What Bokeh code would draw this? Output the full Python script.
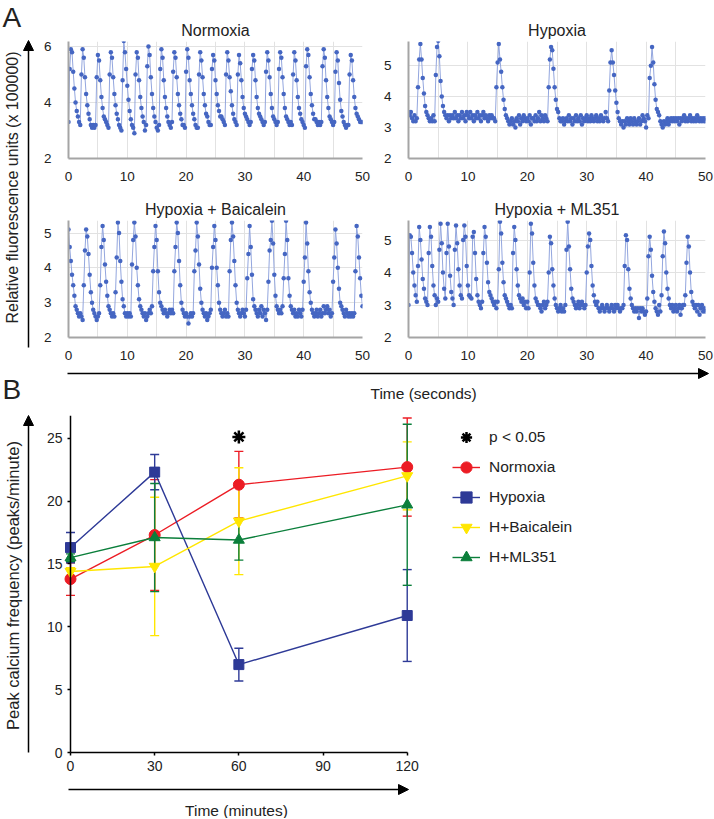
import numpy as np
from bokeh.plotting import figure
from bokeh.layouts import row, column
from bokeh.models import (Range1d, FixedTicker, Arrow, NormalHead, Whisker, TeeHead,
                          ColumnDataSource, Legend, LegendItem)
from bokeh.core.properties import value
from bokeh.embed import file_html
from bokeh.resources import INLINE

FONT = "Liberation Sans"

# ---------------- Panel A data: fluorescence (x 100000), one sample every 0.2 s ----------------
sample_step_s = 0.2

normoxia_trace = [
    3.3, 5.2, 5.9, 5.8, 5.1, 4.5, 4.0, 3.7, 3.5, 3.3,
    3.2, 5.0, 5.9, 5.6, 4.9, 4.3, 3.9, 3.6, 3.4, 3.2,
    3.1, 3.2, 3.1, 3.2, 4.9, 5.7, 5.5, 4.8, 4.2, 3.8,
    3.5, 3.4, 3.3, 3.2, 3.1, 5.0, 5.8, 5.6, 4.9, 4.3,
    3.9, 3.6, 3.4, 3.2, 3.1, 3.0, 4.8, 6.2, 5.8, 5.2,
    4.6, 4.1, 3.7, 3.4, 3.2, 3.1, 2.9, 5.0, 5.8, 5.6,
    4.8, 4.2, 3.8, 3.5, 3.3, 3.0, 3.2, 5.3, 6.0, 5.7,
    4.9, 4.3, 3.8, 3.5, 3.3, 3.1, 3.0, 3.2, 5.2, 5.9,
    5.6, 4.8, 4.2, 3.8, 3.5, 3.3, 3.2, 3.1, 3.3, 5.1,
    5.8, 5.6, 4.9, 4.3, 3.9, 3.6, 3.4, 3.2, 3.2, 3.1,
    5.1, 5.9, 5.6, 4.8, 4.3, 3.9, 3.6, 3.4, 3.2, 3.1,
    3.1, 5.0, 5.8, 5.5, 4.9, 4.3, 3.9, 3.6, 3.5, 3.3,
    3.2, 3.2, 5.2, 5.7, 5.5, 4.8, 4.3, 3.9, 3.7, 3.5,
    3.5, 3.4, 3.3, 3.2, 5.0, 5.8, 5.5, 4.9, 4.4, 3.9,
    3.6, 3.4, 3.3, 3.2, 5.0, 5.7, 5.4, 4.8, 4.2, 3.8,
    3.6, 3.5, 3.4, 3.3, 3.2, 3.3, 5.2, 5.7, 5.5, 4.8,
    4.2, 3.8, 3.6, 3.5, 3.4, 3.3, 3.2, 3.3, 5.1, 5.8,
    5.5, 4.9, 4.3, 3.8, 3.5, 3.4, 3.3, 3.2, 3.3, 5.2,
    5.8, 5.6, 4.9, 4.3, 3.8, 3.5, 3.4, 3.3, 3.2, 3.3,
    3.2, 5.0, 5.8, 5.5, 4.8, 4.2, 3.8, 3.6, 3.4, 3.3,
    3.2, 3.1, 5.3, 5.9, 5.7, 4.9, 4.3, 3.9, 3.6, 3.4,
    3.4, 3.3, 3.2, 3.3, 3.2, 3.3, 5.3, 5.9, 5.6, 4.8,
    4.2, 3.8, 3.5, 3.4, 3.3, 3.2, 3.3, 5.1, 5.8, 5.5,
    4.7, 4.1, 3.7, 3.5, 3.3, 3.2, 3.1, 3.2, 3.2, 5.0,
    5.7, 5.5, 4.8, 4.2, 3.8, 3.6, 3.5, 3.4, 3.3, 3.3,
    3.3]

hypoxia_trace = [
    3.5, 3.4, 3.5, 3.3, 3.2, 3.4, 3.2, 3.3, 4.3, 5.2,
    5.7, 5.2, 4.6, 4.1, 3.7, 3.5, 3.4, 3.3, 3.2, 3.3,
    3.2, 3.4, 3.2, 4.7, 5.6, 5.8, 5.3, 4.5, 4.0, 3.7,
    3.5, 3.4, 3.3, 3.4, 3.2, 3.4, 3.3, 3.4, 3.3, 3.5,
    3.3, 3.4, 3.2, 3.4, 3.3, 3.5, 3.3, 3.4, 3.2, 3.5,
    3.4, 3.3, 3.5, 3.3, 3.4, 3.2, 3.4, 3.3, 3.5, 3.3,
    3.4, 3.2, 3.4, 3.5, 3.3, 3.4, 3.3, 3.2, 3.4, 3.3,
    3.4, 3.3, 3.3, 3.2, 4.3, 5.1, 5.7, 5.2, 4.8, 4.3,
    3.9, 3.6, 3.4, 3.3, 3.2, 3.1, 3.2, 3.3, 3.1, 3.2,
    3.0, 3.3, 3.2, 3.4, 3.1, 3.3, 3.2, 3.4, 3.3, 3.2,
    3.3, 3.2, 3.4, 3.1, 3.3, 3.3, 3.2, 3.4, 3.2, 3.3,
    3.5, 3.2, 3.4, 3.3, 3.2, 3.4, 3.3, 3.2, 4.3, 5.2,
    5.6, 5.5, 4.9, 4.3, 3.9, 3.6, 3.5, 3.3, 3.2, 3.2,
    3.3, 3.1, 3.2, 3.3, 3.2, 3.4, 3.2, 3.3, 3.1, 3.3,
    3.2, 3.4, 3.2, 3.3, 3.2, 3.4, 3.1, 3.3, 3.2, 3.3,
    3.4, 3.2, 3.3, 3.2, 3.4, 3.3, 3.2, 3.3, 3.4, 3.2,
    3.3, 3.2, 3.4, 3.3, 3.2, 3.3, 3.5, 3.3, 3.2, 4.2,
    5.1, 5.5, 5.1, 4.7, 4.2, 3.8, 3.5, 3.3, 3.2, 3.1,
    3.2, 3.0, 3.2, 3.1, 3.3, 3.2, 3.1, 3.3, 3.2, 3.1,
    3.3, 3.2, 3.1, 3.2, 3.3, 3.1, 3.2, 3.4, 3.3, 3.2,
    3.0, 3.4, 3.3, 4.6, 5.0, 5.6, 5.1, 4.4, 3.9, 3.6,
    3.5, 3.4, 3.2, 3.1, 3.0, 3.2, 3.1, 3.2, 3.3, 3.1,
    3.2, 3.3, 3.2, 3.3, 3.2, 3.3, 3.2, 3.3, 3.1, 3.3,
    3.2, 3.3, 3.4, 3.2, 3.3, 3.2, 3.3, 3.4, 3.2, 3.3,
    3.2, 3.3, 3.2, 3.4, 3.3, 3.2, 3.3, 3.2, 3.3, 3.2,
    3.3]

baicalein_trace = [
    5.1, 4.6, 4.2, 3.8, 3.5, 3.2, 2.9, 2.8, 2.7, 2.6,
    2.7, 2.6, 2.5, 3.5, 4.5, 5.1, 4.9, 4.4, 3.8, 3.3,
    3.0, 2.8, 2.7, 2.6, 2.5, 2.6, 2.7, 3.5, 4.6, 5.2,
    4.8, 4.1, 3.6, 3.2, 2.9, 2.8, 2.7, 2.6, 2.7, 2.6,
    3.3, 4.3, 5.3, 5.0, 4.2, 3.6, 3.1, 2.9, 2.7, 2.6,
    2.7, 2.6, 2.7, 2.6, 4.1, 4.8, 5.3, 4.9, 4.0, 3.5,
    3.1, 2.9, 2.8, 2.7, 2.6, 2.7, 2.5, 2.6, 2.7, 2.8,
    2.7, 2.9, 3.9, 4.6, 5.2, 4.8, 3.9, 3.3, 3.0, 2.9,
    2.8, 2.7, 2.8, 2.7, 2.6, 2.7, 2.8, 2.7, 2.8, 2.7,
    3.9, 4.6, 5.3, 5.0, 4.2, 3.5, 3.0, 2.8, 2.7, 2.6,
    2.7, 2.6, 2.4, 2.6, 2.7, 2.6, 2.7, 3.9, 4.5, 5.3,
    4.9, 4.1, 3.4, 3.0, 2.8, 2.7, 2.6, 2.7, 2.5, 2.6,
    2.7, 2.8, 4.0, 4.6, 5.2, 4.8, 4.0, 3.5, 3.0, 2.8,
    2.7, 2.6, 2.7, 2.8, 2.6, 2.7, 2.6, 3.9, 4.8, 5.3,
    4.9, 4.2, 3.5, 3.0, 2.8, 2.7, 2.6, 2.7, 2.8, 2.7,
    2.6, 2.8, 3.7, 4.4, 5.2, 4.6, 3.8, 3.1, 2.9, 2.8,
    2.7, 2.6, 2.8, 2.7, 2.9, 2.6, 2.8, 2.7, 2.5, 2.8,
    3.6, 4.5, 4.8, 5.35, 4.7, 3.8, 3.2, 2.9, 2.8, 2.7,
    2.8, 2.7, 2.9, 3.7, 4.4, 5.35, 4.8, 3.7, 3.2, 2.9,
    2.8, 2.7, 2.8, 2.6, 2.7, 2.6, 2.8, 2.7, 2.6, 2.8,
    3.6, 4.3, 5.3, 4.7, 3.9, 3.3, 3.0, 2.8, 2.7, 2.6,
    2.7, 2.8, 2.6, 2.7, 2.8, 2.6, 2.7, 2.9, 2.7, 2.8,
    2.9, 2.7, 2.8, 2.6, 2.7, 3.6, 4.3, 5.1, 4.7, 4.0,
    3.4, 3.0, 2.9, 2.8, 2.7, 2.6, 2.8, 2.7, 2.6, 2.7,
    2.6, 2.7, 2.6, 2.7, 3.9, 5.2, 4.9, 4.3, 3.7, 3.2,
    2.9]

ml351_trace = [
    3.0, 5.15, 5.1, 4.6, 4.0, 3.6, 3.3, 3.1, 4.2, 5.4,
    5.0, 4.4, 3.8, 3.5, 3.2, 3.1, 3.0, 4.6, 5.4, 5.1,
    4.2, 3.6, 3.3, 3.0, 3.2, 3.1, 4.7, 5.5, 4.9, 4.0,
    3.5, 3.2, 4.6, 5.5, 4.8, 3.9, 3.4, 3.2, 3.0, 4.7,
    5.45, 4.9, 4.1, 3.6, 3.3, 3.2, 5.0, 5.45, 5.1, 4.2,
    3.6, 3.3, 3.25, 3.2, 5.1, 5.25, 4.6, 3.8, 3.3, 3.1,
    3.0, 2.9, 3.1, 4.6, 5.4, 5.1, 4.3, 3.7, 3.4, 3.3,
    3.2, 3.1, 3.0, 3.1, 2.9, 3.1, 4.1, 5.56, 5.2, 4.3,
    3.7, 3.3, 3.2, 3.1, 3.0, 2.9, 3.0, 2.9, 4.6, 5.4,
    5.0, 4.1, 3.6, 3.3, 3.2, 3.1, 3.2, 3.0, 3.1, 2.9,
    3.1, 2.9, 4.0, 5.5, 5.2, 4.3, 3.6, 3.2, 3.1, 3.0,
    3.0, 2.9, 2.8, 3.0, 3.1, 2.9, 3.0, 3.1, 4.0, 5.1,
    4.9, 4.1, 3.6, 3.2, 3.0, 2.9, 2.8, 2.9, 3.0, 2.8,
    2.9, 2.8, 3.0, 4.7, 5.56, 4.8, 4.1, 3.5, 3.2, 3.1,
    3.0, 2.9, 3.0, 3.1, 2.9, 3.0, 3.1, 3.0, 2.9, 3.0,
    4.0, 4.8, 5.2, 5.0, 4.2, 3.6, 3.3, 3.1, 3.0, 3.1,
    2.9, 2.8, 2.9, 3.0, 2.9, 2.8, 2.9, 3.0, 2.9, 2.8,
    2.9, 3.0, 2.9, 2.8, 3.0, 2.9, 3.0, 2.9, 2.8, 2.9,
    2.9, 3.0, 4.2, 5.15, 5.0, 4.1, 3.5, 3.2, 3.0, 2.9,
    2.8, 2.9, 2.8, 2.9, 2.6, 2.9, 2.8, 2.9, 2.8, 2.7,
    2.8, 3.2, 4.5, 5.1, 4.7, 3.9, 3.4, 3.1, 2.9, 2.8,
    2.7, 3.0, 2.8, 3.3, 4.5, 5.26, 4.9, 4.0, 3.5, 3.2,
    3.0, 2.9, 3.0, 2.8, 2.9, 3.0, 2.8, 2.9, 3.0, 2.7,
    2.9, 3.0, 3.0, 3.3, 4.3, 5.1, 4.8, 4.0, 3.4, 3.1,
    3.0, 2.9, 3.0, 2.8, 3.0, 2.7, 2.9, 3.0, 2.8, 2.9,
    2.8]

trace_titles = ["Normoxia", "Hypoxia", "Hypoxia + Baicalein", "Hypoxia + ML351"]
trace_ymax = [6.18, 5.78, 5.36, 5.6]
trace_yticks = [[2, 4, 6], [2, 3, 4, 5], [2, 3, 4, 5], [2, 3, 4, 5]]
trace_xticks = [0, 10, 20, 30, 40, 50]
trace_xgrid = [0, 5, 10, 15, 20, 25, 30, 35, 40, 45, 50]

# ---------------- Panel B data: peak calcium frequency (peaks/minute) ----------------
time_min = [0, 30, 60, 120]
normoxia_mean = [13.8, 17.3, 21.3, 22.7]
normoxia_err = [1.3, 4.4, 2.65, 3.9]
hypoxia_mean = [16.3, 22.3, 7.0, 10.9]
hypoxia_err = [1.2, 1.4, 1.3, 3.65]
baicalein_mean = [14.4, 14.8, 18.4, 22.0]
baicalein_err = [0.3, 5.5, 4.25, 2.7]
ml351_mean = [15.5, 17.1, 16.9, 19.7]
ml351_err = [0.3, 4.3, 1.6, 6.4]
signif_time = [60]
signif_y = [25.1]
b_xticks = [0, 30, 60, 90, 120]
b_yticks = [0, 5, 10, 15, 20, 25]
b_ymax = 26.8

TRACE_DOT = "#4566c2"
TRACE_LINE = "#93a6de"


def trace_fig(vals, title, ymax, yticks, width, height, mbl, mbr, mbt, mbb):
    t = np.arange(len(vals)) * sample_step_s
    p = figure(width=width, height=height, x_range=Range1d(0, 50), y_range=Range1d(2, ymax),
               output_backend="svg", toolbar_location=None, title=title,
               min_border_left=mbl, min_border_right=mbr, min_border_top=mbt, min_border_bottom=mbb)
    p.outline_line_color = None
    p.title.align = "center"
    p.title.text_font = FONT
    p.title.text_font_size = "16px"
    p.title.text_font_style = "normal"
    p.title.text_color = "#222222"
    p.title.standoff = 6
    p.line(t, vals, line_color=TRACE_LINE, line_width=1)
    p.scatter(t, vals, size=4.5, fill_color=TRACE_DOT, line_color=None)
    p.xaxis.ticker = FixedTicker(ticks=trace_xticks)
    p.yaxis.ticker = FixedTicker(ticks=yticks)
    p.xgrid.ticker = FixedTicker(ticks=trace_xgrid)
    p.grid.grid_line_color = "#e2e2e2"
    for ax in p.axis:
        ax.axis_line_color = "#a5a5a5"
        ax.axis_line_width = 2
        ax.major_tick_line_color = None
        ax.minor_tick_line_color = None
        ax.major_label_text_font = FONT
        ax.major_label_text_font_size = "13.5px"
        ax.major_label_text_color = "#222222"
    p.yaxis.major_label_standoff = 11
    p.xaxis.major_label_standoff = 7
    return p


def canvas(w, h):
    p = figure(width=w, height=h, x_range=Range1d(0, w), y_range=Range1d(0, h),
               x_axis_type=None, y_axis_type=None, output_backend="svg",
               toolbar_location=None, min_border=0)
    p.outline_line_color = None
    return p


def txt(p, x, y, s, size, angle=0.0, align="left", color="#222222"):
    p.text(x=[x], y=[y], text=[s], angle=angle, text_align=align, text_baseline="middle",
           text_font=value(FONT), text_font_size=size, text_color=color)


def arrow(p, x0, y0, x1, y1):
    p.add_layout(Arrow(end=NormalHead(size=10, fill_color="black", line_color="black"),
                       x_start=x0, y_start=y0, x_end=x1, y_end=y1,
                       line_color="black", line_width=1.5))


# ---------------- Panel A (page y 0..362) ----------------
pN = trace_fig(normoxia_trace, trace_titles[0], trace_ymax[0], trace_yticks[0], 334, 188, 30, 10, 41, 30)
pH = trace_fig(hypoxia_trace, trace_titles[1], trace_ymax[1], trace_yticks[1], 342, 188, 36, 9, 41, 30)
pBa = trace_fig(baicalein_trace, trace_titles[2], trace_ymax[2], trace_yticks[2], 334, 174, 30, 10, 32, 25)
pM = trace_fig(ml351_trace, trace_titles[3], trace_ymax[3], trace_yticks[3], 342, 174, 36, 9, 32, 25)

decoA = canvas(38, 362)
txt(decoA, 2, 345, "A", "28px")
arrow(decoA, 28, 15, 28, 322)
txt(decoA, 12, 175, "Relative fluorescence units (x 100000)", "16px", angle=np.pi / 2, align="center")

timeA = canvas(714, 42)
arrow(timeA, 67, 31, 708, 31)
txt(timeA, 370, 11, "Time (seconds)", "15.5px")
txt(timeA, 2, 15, "B", "28px")

# ---------------- Panel B (page y 404..818) ----------------
px_per_min = 2.806
px_per_unit = 12.58
b_fig_w = 676
b_fig_h = 378
b_top, b_bottom = 11, 4
b_frame_h = b_fig_h - b_top - b_bottom
b_x0 = -(70 - 38) / px_per_min
b_y0 = b_ymax - b_frame_h / px_per_unit
pb = figure(width=b_fig_w, height=b_fig_h, x_range=Range1d(b_x0, b_x0 + b_fig_w / px_per_min),
            y_range=Range1d(b_y0, b_ymax), output_backend="svg", toolbar_location=None,
            min_border_left=0, min_border_right=0, min_border_top=b_top, min_border_bottom=b_bottom)
pb.outline_line_color = None
pb.grid.visible = False
pb.yaxis.fixed_location = 0
pb.xaxis.fixed_location = 0
pb.xaxis.bounds = (0, 120)
pb.yaxis.bounds = (0, b_ymax)
pb.xaxis.ticker = FixedTicker(ticks=b_xticks)
pb.yaxis.ticker = FixedTicker(ticks=b_yticks)
for ax in pb.axis:
    ax.axis_line_color = "black"
    ax.axis_line_width = 1.5
    ax.major_tick_out = 3
    ax.major_tick_in = 0
    ax.major_tick_line_color = "black"
    ax.major_tick_line_width = 1.5
    ax.minor_tick_line_color = None
    ax.major_label_text_font = FONT
    ax.major_label_text_font_size = "14px"
    ax.major_label_text_color = "#222222"
pb.yaxis.major_label_standoff = 5
pb.xaxis.major_label_standoff = 5

series = [
    ("Normoxia", normoxia_mean, normoxia_err, "#ec1c24", "circle", 11),
    ("Hypoxia", hypoxia_mean, hypoxia_err, "#2e3a97", "square", 10),
    ("H+Baicalein", baicalein_mean, baicalein_err, "#ffe600", "inverted_triangle", 11),
    ("H+ML351", ml351_mean, ml351_err, "#0b7f3b", "triangle", 11),
]

items = []
for name, m, e, c, mk, sz in series:
    src = ColumnDataSource(dict(x=time_min, y=m,
                                lo=[a - b for a, b in zip(m, e)],
                                hi=[a + b for a, b in zip(m, e)]))
    lr = pb.line("x", "y", source=src, line_color=c, line_width=1.4)
    pb.add_layout(Whisker(source=src, base="x", upper="hi", lower="lo", line_color=c, line_width=1.4,
                          upper_head=TeeHead(size=9, line_color=c, line_width=1.4),
                          lower_head=TeeHead(size=9, line_color=c, line_width=1.4)))
    sr = pb.scatter("x", "y", source=src, marker=mk, size=sz, fill_color=c, line_color=c)
    items.append(LegendItem(label=name, renderers=[lr, sr]))

sig = pb.scatter(signif_time, signif_y, marker="asterisk", size=13, line_color="black", line_width=2.5)
items.insert(0, LegendItem(label="p < 0.05", renderers=[sig]))

# legend placed (screen px from frame bottom-left) so its top sits at page y ~423
leg_bottom_from_frame_bottom = (b_fig_h - b_bottom) - (423 - 404 + 148)
leg = Legend(items=items, location=(414, leg_bottom_from_frame_bottom), orientation="vertical",
             padding=0, margin=0, spacing=2, glyph_width=28, glyph_height=28, label_height=20,
             label_standoff=9, label_text_font=FONT, label_text_font_size="15.5px",
             label_text_color="#222222", border_line_color=None, background_fill_alpha=0)
pb.add_layout(leg)

decoB = canvas(38, 414)
arrow(decoB, 28, 66, 28, 403)
txt(decoB, 12, 233, "Peak calcium frequency (peaks/minute)", "16.5px", angle=np.pi / 2, align="center")

timeB = canvas(676, 36)
arrow(timeB, 30, 29, 370, 29)
txt(timeB, 198, 8, "Time (minutes)", "15.5px", align="center")

layout = column(
    row(decoA, column(row(pN, pH), row(pBa, pM))),
    timeA,
    row(decoB, column(pb, timeB)),
)

open("out.html", "w").write(file_html(layout, INLINE))
